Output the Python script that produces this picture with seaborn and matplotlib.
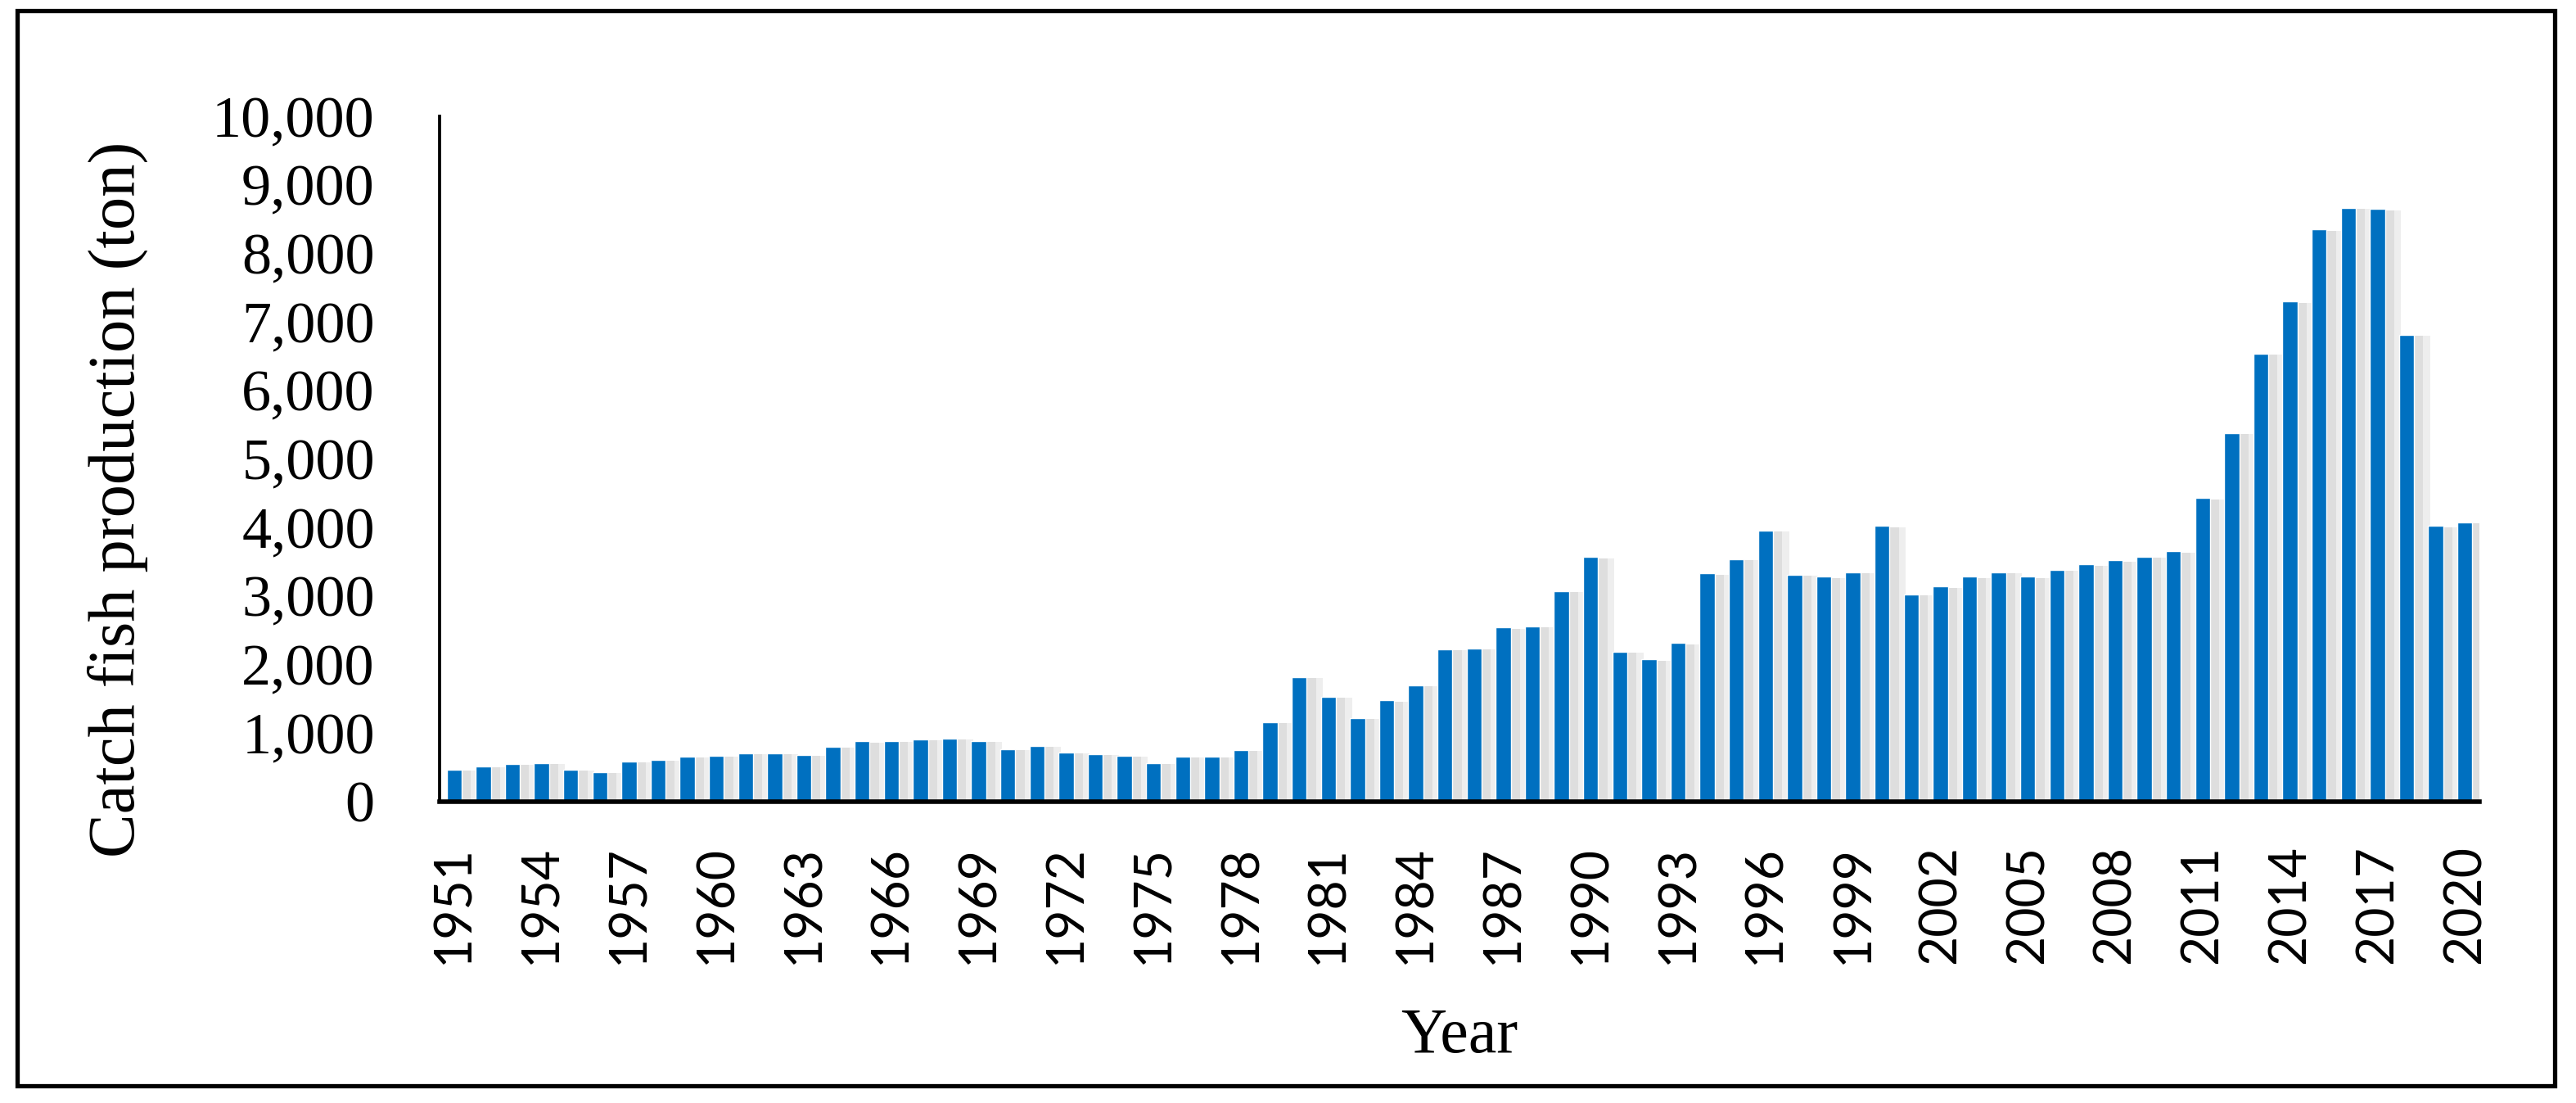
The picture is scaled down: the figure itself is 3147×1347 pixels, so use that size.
import matplotlib
matplotlib.use('Agg')
import matplotlib.pyplot as plt
import matplotlib.patheffects as pe
from matplotlib.patches import Rectangle
from matplotlib.ticker import FuncFormatter
import seaborn as sns

years = list(range(1951, 2021))
catch = [467, 515, 549, 563, 467, 432, 590, 611, 659, 673,
         707, 707, 686, 803, 879, 885, 913, 920, 885, 769,
         817, 721, 693, 673, 563, 659, 659, 755, 1160, 1819,
         1531, 1222, 1476, 1702, 2224, 2237, 2540, 2560, 3075, 3569,
         2190, 2073, 2313, 3329, 3542, 3960, 3315, 3281, 3349, 4022,
         3027, 3137, 3281, 3349, 3281, 3384, 3459, 3521, 3576, 3651,
         4427, 5381, 6541, 7296, 8346, 8662, 8648, 6816, 4022, 4077]
year_labels = [str(y) for y in years]
y_ticks = list(range(0, 10001, 1000))

sns.set_style('white')
plt.rcParams['font.family'] = ['Liberation Serif', 'DejaVu Serif']
plt.rcParams['text.color'] = 'black'
plt.rcParams['axes.labelcolor'] = 'black'
plt.rcParams['xtick.color'] = 'black'
plt.rcParams['ytick.color'] = 'black'

W, H = 3147, 1347
fig = plt.figure(figsize=(W / 100, H / 100), dpi=100)
ax = fig.add_axes([537 / W, 1 - 979 / H, 2492 / W, 837 / H])

# soft grey drop shadow behind every bar, like the Excel original
shadow = [pe.SimplePatchShadow(offset=(14, -1), shadow_rgbFace='#eeeeee', alpha=1),
          pe.SimplePatchShadow(offset=(8, -1), shadow_rgbFace='#dedede', alpha=1),
          pe.Normal()]

sns.barplot(x=year_labels, y=catch, color='#0070C0', saturation=1, width=0.52,
            ax=ax, path_effects=shadow)

ax.set_xlim(-0.5, len(years) - 0.5)
ax.set_ylim(0, 10000)
ax.set_yticks(y_ticks)
ax.yaxis.set_major_formatter(FuncFormatter(lambda v, p: f'{int(v):,}'))
ax.tick_params(axis='y', length=0, pad=57, labelsize=52)

ax.set_xticks(range(0, len(years), 3))
ax.set_xticklabels(year_labels[::3], rotation=90, family=['Lato', 'DejaVu Sans'])
ax.tick_params(axis='x', length=0, pad=38, labelsize=45)

for s in ['top', 'right']:
    ax.spines[s].set_visible(False)
ax.spines['left'].set_linewidth(2.7)
ax.spines['bottom'].set_linewidth(4)
ax.spines['bottom'].set_path_effects([pe.SimplePatchShadow(offset=(0, -3), shadow_rgbFace='#cccccc', alpha=1),
                                      pe.Normal()])
ax.spines['left'].set_color('black')
ax.spines['bottom'].set_color('black')

ax.set_ylabel('Catch fish production (ton)', fontsize=58)
ax.yaxis.set_label_coords(-0.143, 0.441)
ax.set_xlabel('Year', fontsize=56)
ax.xaxis.set_label_coords(0.5, -0.3)

border = Rectangle((21 / W, 1 - 1326 / H), 3100 / W, 1313 / H, transform=fig.transFigure,
                   fill=False, edgecolor='black', linewidth=3.8)
fig.patches.append(border)

fig.savefig('out.png', dpi=100, facecolor='white')
